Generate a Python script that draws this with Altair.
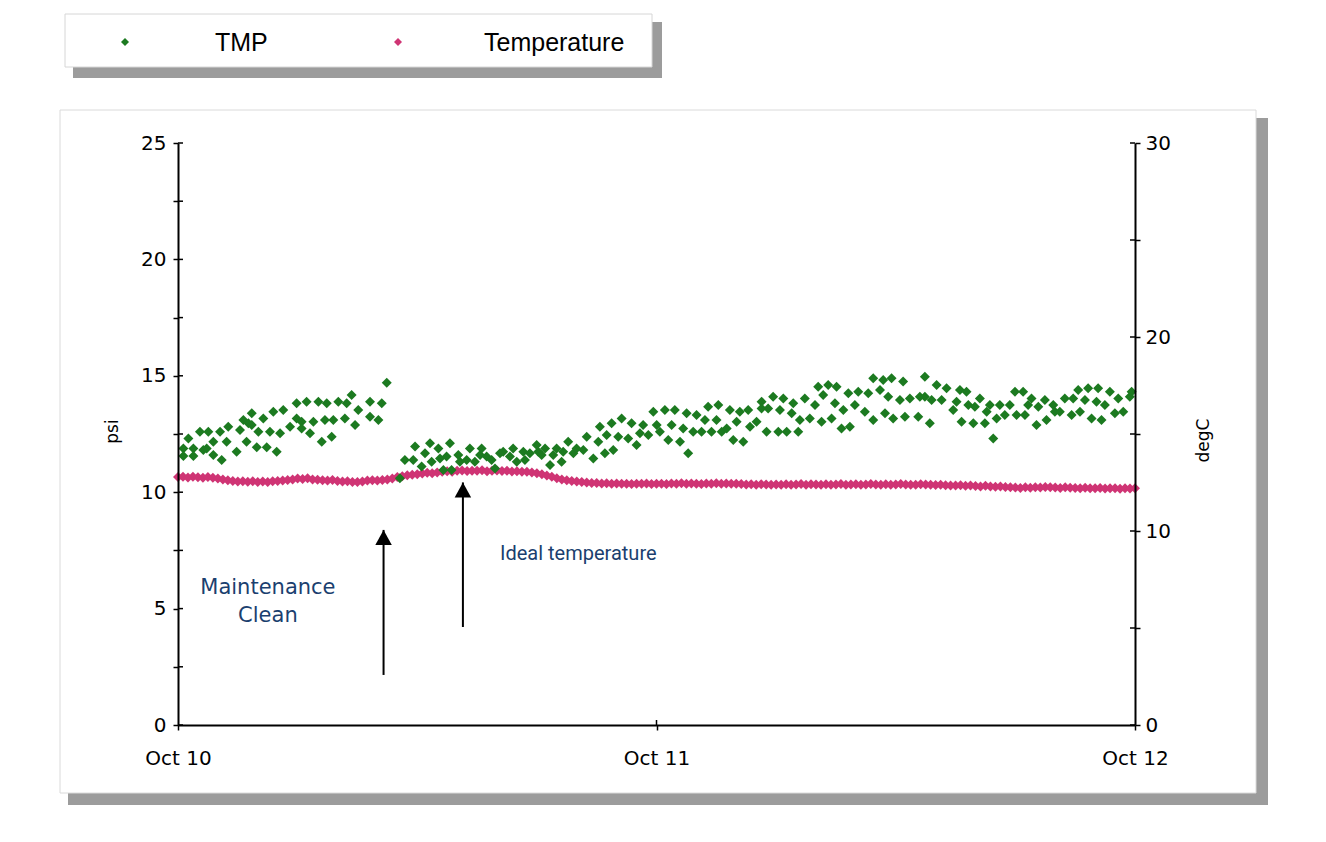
import altair as alt
import pandas as pd

# ---------------- data ----------------
# TMP (psi) scatter, hours after Oct 10 00:00
tmp_hours_a = [0.27,0.27,0.52,0.77,0.77,1.10,1.27,1.44,1.52,1.77,1.77,2.11,2.19,2.44,2.52,2.94,3.11,3.28,3.44,3.53,
               3.70,3.70,3.95,4.03,4.28,4.45,4.61,4.78,4.95,5.12,5.28,5.62,5.95,5.95,6.20,6.20,6.45,6.62,6.79,7.04,
               7.21,7.37,7.46,7.71,7.79,8.04,8.37,8.46,8.71,8.88,9.04,9.63,9.63,10.05,10.22,10.47,11.13,11.38]
tmp_psi_a = [11.88,11.55,12.31,11.88,11.55,12.60,11.81,11.88,12.60,12.17,11.60,12.60,11.38,12.17,12.81,11.74,12.67,13.10,12.17,12.96,
             12.89,13.39,11.93,12.60,13.17,11.93,12.60,13.46,11.74,12.53,13.53,12.81,13.82,13.17,13.03,12.74,13.89,12.53,13.03,13.89,
             12.17,13.10,13.82,12.38,13.10,13.89,13.17,13.82,14.17,12.89,13.53,13.89,13.24,13.10,13.82,14.70,10.60,11.38]

tmp_hours_b = [11.80,11.89,12.22,12.39,12.64,12.72,13.06,13.14,13.31,13.47,13.64,13.72,14.06,14.14,14.48,14.64,14.89,15.15,15.23,15.48,
               15.73,15.90,16.15,16.31,16.65,16.81,16.99,17.32,17.40,17.65,17.99,18.07,18.24,18.41,18.66,18.82,18.99,19.24,19.32,19.57,
               19.83,19.99,20.33,20.50,20.83,21.08,21.16,21.41,21.50,21.75,21.83,22.08,22.25,22.58,22.75,23.00,23.17,23.33,23.59,23.84]
tmp_psi_b = [11.38,11.96,11.10,11.67,12.10,11.31,11.88,11.45,10.95,11.53,12.10,10.95,11.60,11.31,11.38,11.88,11.31,11.60,11.88,11.53,
             11.38,11.02,11.67,11.74,11.53,11.88,11.31,11.74,11.38,11.67,12.03,11.74,11.60,11.88,11.17,11.60,11.88,11.31,11.74,12.17,
             11.67,11.88,11.81,12.38,11.45,12.17,12.81,11.67,12.46,12.96,11.81,12.38,13.17,12.31,12.96,12.03,12.53,12.89,12.46,13.46]

tmp_hours_c = [24.01,24.17,24.42,24.59,24.76,24.92,25.18,25.34,25.51,25.59,25.84,26.01,26.26,26.43,26.59,26.76,27.01,27.10,27.27,27.52,
               27.68,27.85,28.02,28.18,28.35,28.60,28.69,29.02,29.27,29.27,29.52,29.60,29.85,30.11,30.19,30.36,30.53,30.78,30.86,31.11,
               31.19,31.44,31.69,31.95,32.11,32.28,32.36,32.61,32.78,32.95,33.03,33.28,33.37,33.62,33.70,33.95,34.12,34.45,34.62,34.87,
               34.87,35.21,35.37,35.46,35.62,35.79,35.87]
tmp_psi_c = [12.89,12.60,13.53,12.24,12.89,13.53,12.17,12.74,13.39,11.67,12.60,13.32,12.60,13.10,13.67,12.60,13.10,13.75,12.60,12.74,
             13.53,12.24,13.03,13.46,12.17,13.53,12.81,13.03,13.89,13.60,12.60,13.60,14.10,12.60,13.53,14.03,12.60,13.39,13.82,12.60,
             13.10,14.03,13.17,13.75,14.53,13.03,14.18,14.60,13.17,13.82,14.53,12.74,13.53,14.25,12.81,13.75,14.32,13.46,14.25,13.10,
             14.89,14.39,14.82,13.39,14.10,14.89,13.17]

tmp_hours_d = [36.21,36.37,36.46,36.71,37.13,37.21,37.46,37.46,37.71,37.80,38.05,38.30,38.55,38.88,39.05,39.22,39.30,39.55,39.64,39.89,
               39.97,40.22,40.47,40.56,40.72,40.89,41.06,41.22,41.47,41.72,41.98,42.06,42.39,42.48,42.64,42.81,43.06,43.15,43.48,43.56,
               43.90,43.98,44.23,44.48,44.82,44.90,45.15,45.24,45.49,45.65,45.82,46.07,46.15,46.32,46.49,46.74,46.99,47.16,47.41,47.74,
               47.83]
tmp_psi_d = [13.96,14.75,13.24,14.03,13.24,14.10,14.96,14.10,12.96,13.96,14.60,13.96,14.46,13.53,13.89,14.39,13.03,14.32,13.75,12.96,
             13.67,14.03,12.96,13.46,13.75,12.31,13.17,13.75,13.32,13.75,14.32,13.32,14.32,13.32,13.75,14.03,12.89,13.67,13.96,13.10,
             13.75,13.46,13.46,14.03,13.32,14.03,14.39,13.46,13.96,14.46,13.17,13.89,14.46,13.10,13.75,14.32,13.39,14.03,13.46,14.10,
             14.32]

# Temperature (degC), one reading every 15 minutes from Oct 10 00:00 to Oct 12 00:00
temp_step_hours = 0.25
temp_degc = [
    12.78,12.80,12.76,12.79, 12.77,12.75,12.78,12.74, 12.70,12.66,12.62,12.58, 12.55,12.57,12.54,12.56,
    12.53,12.55,12.52,12.56, 12.58,12.60,12.63,12.65, 12.70,12.68,12.72,12.66, 12.64,12.62,12.60,12.63,
    12.58,12.55,12.57,12.53, 12.52,12.55,12.60,12.62, 12.60,12.63,12.66,12.70, 12.78,12.82,12.88,12.90,
    12.93,12.96,13.00,12.98, 13.02,13.05,13.08,13.06, 13.10,13.12,13.09,13.11, 13.10,13.13,13.08,13.10,
    13.12,13.09,13.11,13.07, 13.08,13.05,13.06,13.02, 12.98,12.92,12.86,12.80, 12.72,12.66,12.62,12.58,
    12.55,12.52,12.50,12.48, 12.47,12.45,12.46,12.44, 12.45,12.43,12.44,12.42, 12.44,12.43,12.45,12.42,
    12.43,12.44,12.42,12.45, 12.44,12.46,12.43,12.45, 12.44,12.42,12.45,12.43, 12.46,12.44,12.45,12.43,
    12.44,12.42,12.40,12.41, 12.39,12.41,12.40,12.38, 12.40,12.39,12.41,12.38, 12.40,12.42,12.39,12.41,
    12.40,12.38,12.41,12.39, 12.40,12.42,12.39,12.40, 12.41,12.39,12.40,12.42, 12.40,12.38,12.41,12.39,
    12.40,12.42,12.40,12.38, 12.39,12.41,12.40,12.38, 12.37,12.39,12.36,12.35, 12.34,12.36,12.33,12.35,
    12.32,12.30,12.33,12.29, 12.28,12.30,12.27,12.25, 12.24,12.22,12.25,12.23, 12.26,12.24,12.27,12.25,
    12.24,12.22,12.25,12.23, 12.22,12.20,12.23,12.21, 12.20,12.22,12.19,12.21, 12.20,12.18,12.21,12.19,
    12.20,
]

x_tick_hours = [0, 24, 48]
x_tick_labels = ["Oct 10", "Oct 11", "Oct 12"]
psi_ticks = [0, 2.5, 5, 7.5, 10, 12.5, 15, 17.5, 20, 22.5, 25]
degc_ticks = [0, 5, 10, 15, 20, 25, 30]

series_names = ["TMP", "Temperature"]
series_colors = ["#1c7a20", "#cf3474"]

note_maint_text = "Maintenance\nClean"
note_maint_hour, note_maint_psi = 4.51, 5.89
note_ideal_text = "Ideal temperature"
note_ideal_hour, note_ideal_psi = 16.15, 7.35

arrow_hours = [10.31, 14.29]
arrow_base_psi = [2.15, 4.21]
arrow_tip_psi = [8.38, 10.42]

# ---------------- frames ----------------
tmp_hours = tmp_hours_a + tmp_hours_b + tmp_hours_c + tmp_hours_d
tmp_psi = tmp_psi_a + tmp_psi_b + tmp_psi_c + tmp_psi_d
assert len(tmp_hours) == len(tmp_psi)
tmp_df = pd.DataFrame({"hour": tmp_hours, "psi": tmp_psi})
temp_df = pd.DataFrame({"hour": [i * temp_step_hours for i in range(len(temp_degc))], "degC": temp_degc})
psi_tick_df = pd.DataFrame({"v": psi_ticks})
deg_tick_df = pd.DataFrame({"v": degc_ticks})
xtick_df = pd.DataFrame({"hour": [x_tick_hours[1]]})
arrow_df = pd.DataFrame({"hour": arrow_hours, "base": arrow_base_psi, "tip": arrow_tip_psi})
maint_df = pd.DataFrame({"hour": [note_maint_hour], "psi": [note_maint_psi], "t": [note_maint_text]})
ideal_df = pd.DataFrame({"hour": [note_ideal_hour], "psi": [note_ideal_psi], "t": [note_ideal_text]})
one = alt.Data(values=[{}])

W, H = 957, 582

label_expr_x = "[" + ",".join("'%s'" % s for s in x_tick_labels) + "][round(datum.value/24)]"
x_scale = alt.Scale(domain=[0, 48], nice=False, zero=False)
x_axis = alt.Axis(values=x_tick_hours, labelExpr=label_expr_x, tickSize=5, labelPadding=18,
                  labelFlush=False, labelOverlap=False, title=None, grid=False, zindex=2)
psi_scale = alt.Scale(domain=[0, 25], nice=False)
psi_axis = alt.Axis(orient="left", values=psi_ticks, labelExpr="datum.value % 5 === 0 ? datum.label : ''",
                    tickSize=5, labelPadding=7, labelOverlap=False, grid=False, title="psi", zindex=2,
                    titleX=-57, titleY=288, titleAngle=-90, titleBaseline="bottom", titleAlign="center")
deg_scale = alt.Scale(domain=[0, 30], nice=False)
deg_axis = alt.Axis(orient="right", values=degc_ticks, labelExpr="datum.value % 10 === 0 ? datum.label : ''",
                    tickSize=5, labelPadding=5, labelOverlap=False, grid=False, title="degC", zindex=2,
                    titleX=77, titleY=297, titleAngle=-90, titleBaseline="bottom", titleAlign="center")


def X(field="hour"):
    return alt.X(field, type="quantitative", scale=x_scale, axis=x_axis)


def YP(field):
    return alt.Y(field, type="quantitative", scale=psi_scale, axis=psi_axis)


def YD(field):
    return alt.Y(field, type="quantitative", scale=deg_scale, axis=deg_axis)


def box(x1, x2, y1, y2, fill, stroke=None):
    kw = dict(fill=fill)
    if stroke:
        kw.update(stroke=stroke, strokeWidth=1)
    return alt.Chart(one).mark_rect(**kw).encode(
        x=alt.value(x1), x2=alt.value(x2), y=alt.value(y1), y2=alt.value(y2))


shadow = "#9c9c9c"
decor = [
    box(-105, 484, -121, -65, shadow),
    box(-113, 474, -129, -76, "white", "#d6d6d6"),
    box(-110, 1090, -25, 662, shadow),
    box(-118, 1078, -33, 650, "white", "#dadada"),
]

legend_marks = []
leg_sym_x = [-53, 220]
leg_txt_x = [37, 306]
for name, col, sx, tx in zip(series_names, series_colors, leg_sym_x, leg_txt_x):
    legend_marks.append(alt.Chart(one).mark_point(shape="diamond", filled=True, size=64, opacity=1, color=col)
                        .encode(x=alt.value(sx), y=alt.value(-101)))
    legend_marks.append(alt.Chart(one).mark_text(text=name, font="Liberation Sans", fontSize=25, align="left",
                                                 baseline="middle", color="black")
                        .encode(x=alt.value(tx), y=alt.value(-100)))

temp_pts = alt.Chart(temp_df).mark_point(shape="diamond", filled=True, size=100, opacity=1,
                                         color=series_colors[1]).encode(x=X(), y=YD("degC"))
deg_inner = alt.Chart(deg_tick_df).mark_rule(color="black", strokeWidth=1.5).encode(
    y=YD("v"), x=alt.value(W - 5), x2=alt.value(W))

group_deg = alt.layer(*decor, *legend_marks, temp_pts, deg_inner)

tmp_pts = alt.Chart(tmp_df).mark_point(shape="diamond", filled=True, size=100, opacity=1,
                                       color=series_colors[0]).encode(x=X(), y=YP("psi"))
psi_inner = alt.Chart(psi_tick_df).mark_rule(color="black", strokeWidth=1.5).encode(
    y=YP("v"), x=alt.value(0), x2=alt.value(5))
x_inner = alt.Chart(xtick_df).mark_rule(color="black", strokeWidth=1.5).encode(
    x=X(), y=alt.value(H - 5), y2=alt.value(H))
shafts = alt.Chart(arrow_df).mark_rule(color="black", strokeWidth=2).encode(
    x=X(), y=YP("base"), y2=alt.Y2("tip"))
heads = alt.Chart(arrow_df).mark_point(shape="M0,0L-0.55,1L0.55,1Z", filled=True, size=900, opacity=1,
                                       color="black").encode(x=X(), y=YP("tip"))
maint = alt.Chart(maint_df).mark_text(font="DejaVu Sans", fontSize=21, color="#1b3f6f", align="center",
                                      baseline="middle", lineBreak="\n", lineHeight=28).encode(
    x=X(), y=YP("psi"), text="t:N")
ideal = alt.Chart(ideal_df).mark_text(font="Roboto", fontSize=20, color="#1b3f6f", align="left",
                                      baseline="middle").encode(x=X(), y=YP("psi"), text="t:N")

group_psi = alt.layer(tmp_pts, psi_inner, x_inner, shafts, heads, maint, ideal)

chart = (
    alt.layer(group_deg, group_psi)
    .resolve_scale(y="independent")
    .properties(width=W, height=H,
                padding={"left": 170, "top": 135, "right": 175, "bottom": 100},
                autosize=alt.AutoSizeParams(type="none"),
                background="white")
    .configure_view(stroke=None)
    .configure_axis(labelFont="DejaVu Sans", labelFontSize=20, labelColor="black",
                    titleFont="DejaVu Sans", titleFontSize=17, titleFontWeight="normal", titleColor="black",
                    domainColor="black", domainWidth=2, tickColor="black", tickWidth=1.5)
)

chart.save("out.html", embed_options={"renderer": "svg", "actions": False})
